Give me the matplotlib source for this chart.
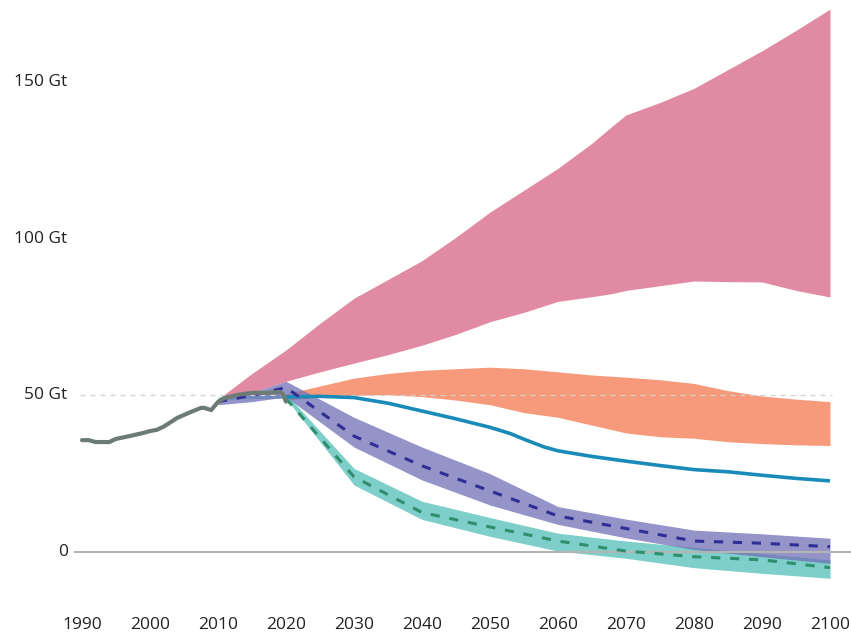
import matplotlib
matplotlib.use('Agg')
from matplotlib import pyplot as plt

plt.rcParams['font.family'] = ['Open Sans', 'DejaVu Sans']

# historical emissions
hist_years = [1990, 1991, 1992, 1994, 1995, 1997, 1999, 2000, 2001, 2002, 2004, 2006,
              2007.5, 2008, 2009, 2010, 2011, 2013, 2015, 2017, 2019, 2019.5, 2020]
hist_vals = [35.7, 35.7, 35.1, 35.1, 36.1, 37.0, 38.0, 38.6, 39.0, 40.0, 42.8, 44.7,
             46.0, 46.0, 45.3, 47.9, 49.2, 50.2, 50.8, 50.8, 51.1, 50.6, 48.0]

# high-emission range (pink)
pink_years = [2010, 2015, 2020, 2025, 2030, 2035, 2040, 2045, 2050, 2055, 2060, 2065,
              2068, 2070, 2075, 2080, 2085, 2090, 2095, 2100]
pink_hi = [48.8, 57, 64.5, 73, 81, 87, 93, 100.5, 108.5, 115.5, 122.5, 130.5,
           136, 139.5, 143.5, 148, 154, 160, 166.5, 173.3]
pink_lo = [48.2, 51, 54.5, 57.5, 60.3, 63, 66, 69.5, 73.5, 76.5, 80, 81.5,
           82.5, 83.5, 85, 86.5, 86.3, 86.2, 83.5, 81.4]

# current policies range (orange)
orange_years = [2020, 2025, 2030, 2035, 2040, 2045, 2050, 2055, 2060, 2065, 2070,
                2075, 2080, 2085, 2090, 2095, 2100]
orange_hi = [50.5, 53, 55.5, 57, 58, 58.5, 59, 58.5, 57.5, 56.5, 55.8,
             55, 53.8, 51.5, 49.8, 48.8, 48]
orange_lo = [48.5, 49.5, 50, 50.2, 49.6, 48.5, 47, 44.5, 43, 40.5, 38,
             36.8, 36.3, 35.2, 34.6, 34.2, 34]

# pledges (blue line)
blue_years = [2020, 2025, 2030, 2035, 2040, 2045, 2050, 2053, 2055, 2058, 2060, 2065,
              2070, 2075, 2080, 2085, 2090, 2095, 2100]
blue_vals = [49.5, 49.7, 49.3, 47.5, 45, 42.5, 39.8, 37.8, 36.0, 33.5, 32.3, 30.5,
             29.0, 27.6, 26.3, 25.6, 24.5, 23.5, 22.7]

# 2°C pathways (purple)
purple_years = [2010, 2015, 2020, 2030, 2040, 2050, 2060, 2070, 2080, 2090, 2100]
purple_hi = [49, 51, 54.5, 43, 33.5, 25, 14.5, 10.5, 7.0, 5.8, 4.4]
purple_lo = [47, 48, 49.5, 33.5, 23, 15, 8.8, 4.5, 0.8, -1.5, -3.6]
purple_mid = [48, 50, 52.5, 37, 27.5, 19.5, 11.5, 7.5, 3.5, 2.8, 1.7]

# 1.5°C pathways (teal)
teal_years = [2010, 2015, 2020, 2030, 2040, 2050, 2060, 2070, 2080, 2090, 2100]
teal_hi = [49.5, 50, 50.5, 26.7, 16.2, 11, 6, 3.5, 1.5, -0.5, -2.5]
teal_lo = [48.5, 49, 49, 21.4, 10.4, 5, 0.3, -2, -5, -6.8, -8.4]
green_years = [2020, 2030, 2040, 2050, 2060, 2070, 2080, 2090, 2100]
green_mid = [49, 24, 12.6, 8, 3.5, 0.3, -1.5, -2.5, -5]

x_ticks = [1990, 2000, 2010, 2020, 2030, 2040, 2050, 2060, 2070, 2080, 2090, 2100]
y_ticks = [0, 50, 100, 150]
y_labels = ['0', '50 Gt', '100 Gt', '150 Gt']

fig = plt.figure(figsize=(8.51, 6.37), dpi=100)
fig.set_facecolor('white')
ax = fig.add_axes([0, 0, 1, 1])
ax.set_xlim(1977.94, 2103.09)
ax.set_ylim(-27.13, 176.2)
ax.axis('off')

ax.fill_between(pink_years, pink_lo, pink_hi, color='#e08ba3', linewidth=0, zorder=1)
ax.fill_between(orange_years, orange_lo, orange_hi, color='#f79a7b', linewidth=0, zorder=2)
ax.fill_between(teal_years, teal_lo, teal_hi, color='#7ecec9', linewidth=0, zorder=3)
ax.fill_between(purple_years, purple_lo, purple_hi, color='#7070b6', alpha=0.75,
                linewidth=0, zorder=4)

# grid lines
ax.plot([1989, 2103.09], [0, 0], color='#b4b4b4', linewidth=1.5, zorder=5)
ax.plot([1989.7, 2100.3], [50, 50], color='#d2d2d2', linewidth=0.9,
        linestyle=(0, (4, 4)), zorder=5)

ax.plot(blue_years, blue_vals, color='#1a8bb9', linewidth=2.6, zorder=6,
        solid_capstyle='butt')
ax.plot(purple_years, purple_mid, color='#2e2e96', linewidth=2.2,
        linestyle=(0, (3, 3.2)), zorder=7)
ax.plot(green_years, green_mid, color='#2f8f6c', linewidth=2.2,
        linestyle=(0, (3, 3.2)), zorder=7)
ax.plot(hist_years, hist_vals, color='#6c7b74', linewidth=3, zorder=8,
        solid_joinstyle='round', solid_capstyle='round')

# tick labels
for yr in x_ticks:
    ax.text(yr, -23.3, str(yr), ha='center', va='center', fontsize=12.5, color='#222222')
for v, lab in zip(y_ticks, y_labels):
    ax.text(1987.9, v, lab, ha='right', va='center', fontsize=12.5, color='#222222')

plt.savefig('out.png', dpi=100, facecolor='white')
